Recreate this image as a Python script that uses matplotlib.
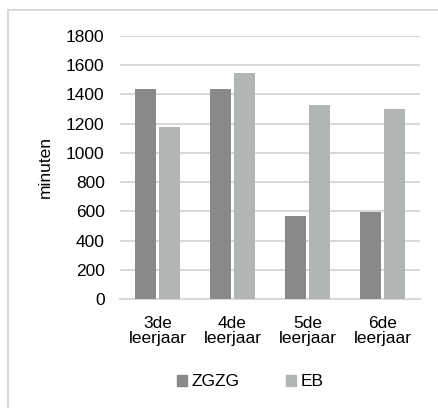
import matplotlib
matplotlib.use("Agg")
import matplotlib.pyplot as plt
import numpy as np
from matplotlib.lines import Line2D

categories = ["3de\nleerjaar", "4de\nleerjaar", "5de\nleerjaar", "6de\nleerjaar"]
zgzg = [1440, 1440, 570, 595]
eb = [1180, 1550, 1325, 1300]
series_names = ["ZGZG", "EB"]
yticks = [0, 200, 400, 600, 800, 1000, 1200, 1400, 1600, 1800]

plt.rcParams['font.family'] = ['Liberation Sans', 'DejaVu Sans']
W, H = 439, 408
fig = plt.figure(figsize=(W / 100, H / 100), dpi=100)
ax = fig.add_axes([120 / W, 1 - 299 / H, 300 / W, 263 / H])

c_dark = "#87898b"
c_light = "#b2b5b6"
x = np.arange(len(categories))
bw = 0.267
off = 0.16
ax.bar(x - off, zgzg, bw, color=c_dark, label=series_names[0], zorder=3)
ax.bar(x + off, eb, bw, color=c_light, label=series_names[1], zorder=3)

ax.set_xlim(-0.5, 3.5)
ax.set_ylim(0, 1800)
ax.set_yticks(yticks)
ax.set_yticklabels([str(v) for v in yticks])
ax.set_xticks(x)
ax.set_xticklabels(categories, linespacing=1.05)
ax.tick_params(axis='both', length=0, labelsize=12.5, colors='#000000')
ax.tick_params(axis='y', pad=11)
ax.tick_params(axis='x', pad=12)
ax.grid(axis='y', color='#d9d9d9', linewidth=1.5, zorder=0)
ax.set_axisbelow(True)
for s in ['top', 'right', 'left']:
    ax.spines[s].set_visible(False)
ax.spines['bottom'].set_color('#d9d9d9')
ax.spines['bottom'].set_linewidth(1.5)
ax.set_ylabel("minuten", fontsize=12.5)
ax.yaxis.set_label_coords((53 - 120) / 300, 0.5)

handles = [plt.Rectangle((0, 0), 1, 1, color=c_dark), plt.Rectangle((0, 0), 1, 1, color=c_light)]
fig.legend(handles, series_names, loc='center', bbox_to_anchor=(250 / W, 1 - 382 / H),
           ncol=2, frameon=False, fontsize=12.5, handlelength=0.6, handleheight=0.6,
           handletextpad=0.25, columnspacing=2.65, borderpad=0)

# outer frame (top and left edges visible)
fig.add_artist(Line2D([8 / W, 1], [1 - 10 / H, 1 - 10 / H], color='#d9d9d9', linewidth=1.5, transform=fig.transFigure))
fig.add_artist(Line2D([8 / W, 8 / W], [0, 1 - 10 / H], color='#d9d9d9', linewidth=1.5, transform=fig.transFigure))

fig.savefig("out.png", dpi=100)
